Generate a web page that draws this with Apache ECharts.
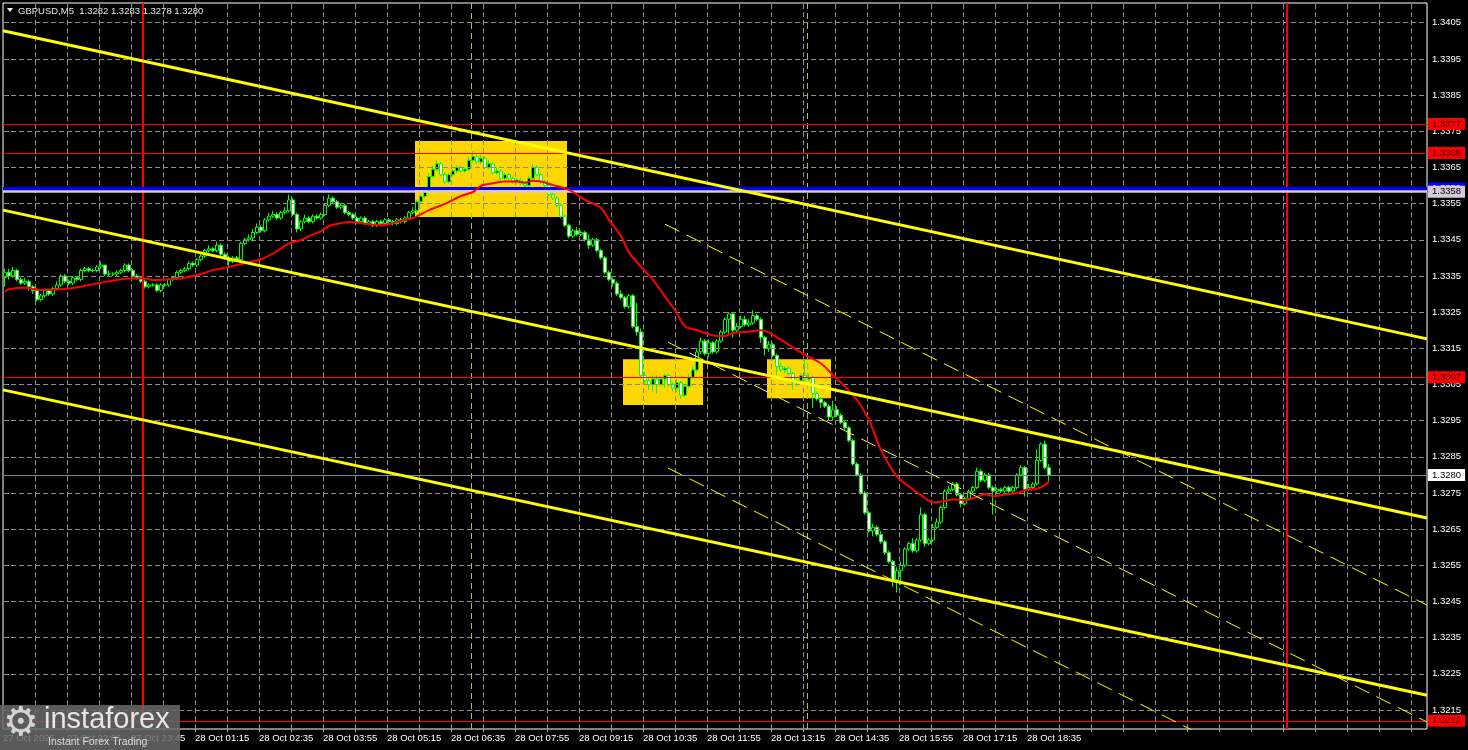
<!DOCTYPE html>
<html><head><meta charset="utf-8">
<script src="https://cdn.jsdelivr.net/npm/echarts@6/dist/echarts.min.js"></script>
<style>html,body{margin:0;padding:0;background:#000;}#c{width:1468px;height:750px;}</style>
</head><body><div id="c"></div>
<script>
const symbolTitle = 'GBPUSD,M5';
const lastQuote = ['1.3282', '1.3283', '1.3278', '1.3280'];
const slotCount = 356;
const timeTickBars = [0, 16, 32, 48, 64, 80, 96, 112, 128, 144, 160, 176, 192, 208, 224, 240, 256];
const timeTickLabels = ['27 Oct 2025', '27 Oct 22:05', '27 Oct 23:45', '28 Oct 01:15', '28 Oct 02:35', '28 Oct 03:55', '28 Oct 05:15', '28 Oct 06:35', '28 Oct 07:55', '28 Oct 09:15', '28 Oct 10:35', '28 Oct 11:55', '28 Oct 13:15', '28 Oct 14:35', '28 Oct 15:55', '28 Oct 17:15', '28 Oct 18:35'];
const priceTicks = [1.3215, 1.3225, 1.3235, 1.3245, 1.3255, 1.3265, 1.3275, 1.3285, 1.3295, 1.3305, 1.3315, 1.3325, 1.3335, 1.3345, 1.3355, 1.3365, 1.3375, 1.3385, 1.3395, 1.3405];
const priceMin = 1.320975, priceMax = 1.341045;
// [open, close, low, high]
const candles = [
[1.33345,1.3336,1.3332,1.3337],[1.3336,1.3335,1.3334,1.3337],[1.3335,1.33365,1.33345,1.33375],[1.33365,1.3334,1.33335,1.3337],
[1.3334,1.3333,1.33325,1.33345],[1.3333,1.33335,1.33325,1.33345],[1.33335,1.3332,1.3331,1.3334],[1.3332,1.3331,1.333,1.33325],
[1.3331,1.33285,1.3328,1.33315],[1.33285,1.33295,1.3328,1.333],[1.33295,1.3331,1.3329,1.33315],[1.3331,1.333,1.33295,1.33315],
[1.333,1.33315,1.33295,1.3332],[1.33315,1.33325,1.3331,1.33335],[1.33325,1.3335,1.3332,1.33355],[1.3335,1.33335,1.3333,1.33355],
[1.33335,1.3333,1.33325,1.3334],[1.3333,1.33345,1.33325,1.3335],[1.33345,1.3334,1.33335,1.3335],[1.3334,1.33365,1.33335,1.3337],
[1.33365,1.3337,1.3336,1.33375],[1.3337,1.33365,1.3336,1.33375],[1.33365,1.33365,1.3336,1.3337],[1.33365,1.33375,1.3336,1.3338],
[1.33375,1.3338,1.3337,1.3339],[1.3338,1.33355,1.3335,1.3338],[1.33355,1.33355,1.3335,1.33365],[1.33355,1.33355,1.3335,1.3336],
[1.33355,1.3336,1.3335,1.33365],[1.3336,1.33365,1.33355,1.3337],[1.33365,1.3338,1.3336,1.33385],[1.3338,1.33365,1.3336,1.33385],
[1.33365,1.3335,1.33345,1.3337],[1.3335,1.33345,1.3334,1.33355],[1.33345,1.33335,1.3333,1.3335],[1.33335,1.3332,1.33315,1.3334],
[1.3332,1.33325,1.33315,1.3333],[1.33325,1.33325,1.3332,1.3333],[1.33325,1.3331,1.33305,1.3333],[1.3331,1.33325,1.33305,1.3333],
[1.33325,1.33325,1.3332,1.3333],[1.33325,1.3334,1.3332,1.33345],[1.3334,1.33345,1.33335,1.3335],[1.33345,1.3336,1.3334,1.33365],
[1.3336,1.33365,1.33355,1.3337],[1.33365,1.3337,1.3336,1.33375],[1.3337,1.33385,1.33365,1.3339],[1.33385,1.3338,1.33375,1.3339],
[1.3338,1.33395,1.33375,1.334],[1.33395,1.33405,1.3339,1.3341],[1.33405,1.3342,1.334,1.33425],[1.3342,1.33425,1.33415,1.33435],
[1.33425,1.3342,1.33415,1.3343],[1.3342,1.33435,1.33415,1.33445],[1.33435,1.3341,1.33405,1.3344],[1.3341,1.334,1.33395,1.33415],
[1.334,1.3339,1.33375,1.33405],[1.3339,1.334,1.33385,1.33405],[1.334,1.33395,1.3339,1.33405],[1.33395,1.3344,1.3339,1.33445],
[1.3344,1.3345,1.33435,1.33455],[1.3345,1.33455,1.33445,1.33465],[1.33455,1.3347,1.33445,1.3348],[1.3347,1.33485,1.33465,1.33495],
[1.33485,1.33475,1.3347,1.3349],[1.33475,1.33505,1.3347,1.3351],[1.33505,1.33515,1.335,1.33525],[1.33515,1.3352,1.3351,1.3353],
[1.3352,1.3351,1.33505,1.33525],[1.3351,1.33525,1.33505,1.3353],[1.33525,1.3353,1.3352,1.3354],[1.3353,1.3356,1.33525,1.33575],
[1.3356,1.3352,1.33515,1.33565],[1.3352,1.3348,1.3347,1.33525],[1.3348,1.335,1.33475,1.33505],[1.335,1.3351,1.33495,1.3352],
[1.3351,1.335,1.33495,1.33515],[1.335,1.33515,1.33495,1.3352],[1.33515,1.3351,1.33505,1.3352],[1.3351,1.3352,1.33505,1.33525],
[1.3352,1.33545,1.33515,1.3355],[1.33545,1.33565,1.3354,1.33575],[1.33565,1.33555,1.3355,1.3357],[1.33555,1.3354,1.33535,1.3356],
[1.3354,1.33545,1.33535,1.3355],[1.33545,1.33525,1.3352,1.3355],[1.33525,1.3352,1.33515,1.3353],[1.3352,1.3351,1.33505,1.33525],
[1.3351,1.335,1.33495,1.33515],[1.335,1.3351,1.33495,1.33515],[1.3351,1.33495,1.3349,1.33515],[1.33495,1.335,1.3349,1.33505],
[1.335,1.3349,1.33485,1.33505],[1.3349,1.335,1.33485,1.33505],[1.335,1.33495,1.3349,1.33505],[1.33495,1.33505,1.3349,1.3351],
[1.33505,1.335,1.33495,1.3351],[1.335,1.33495,1.3349,1.33505],[1.33495,1.33505,1.3349,1.3351],[1.33505,1.335,1.33495,1.3351],
[1.335,1.3351,1.33495,1.33515],[1.3351,1.33525,1.33505,1.3353],[1.33525,1.3353,1.3352,1.3354],[1.3353,1.33555,1.33525,1.3356],
[1.33555,1.3357,1.3355,1.33575],[1.3357,1.33585,1.33565,1.3359],[1.33585,1.33625,1.3358,1.33635],[1.33625,1.33645,1.3362,1.33655],
[1.33645,1.3366,1.3364,1.3367],[1.3366,1.3363,1.33625,1.33665],[1.3363,1.3361,1.33605,1.33635],[1.3361,1.3363,1.33605,1.33635],
[1.3363,1.3364,1.33625,1.33645],[1.3364,1.3365,1.33635,1.33655],[1.3365,1.3364,1.33635,1.33655],[1.3364,1.33645,1.33635,1.3365],
[1.33645,1.3367,1.3364,1.3368],[1.3367,1.3368,1.33665,1.33695],[1.3368,1.33665,1.3366,1.33685],[1.33665,1.33675,1.3366,1.33685],
[1.33675,1.3365,1.33645,1.3368],[1.3365,1.3366,1.33645,1.3367],[1.3366,1.33635,1.3363,1.33665],[1.33635,1.3364,1.3363,1.3365],
[1.3364,1.3362,1.33615,1.33645],[1.3362,1.3363,1.33615,1.33635],[1.3363,1.3362,1.33615,1.33635],[1.3362,1.3361,1.33605,1.33625],
[1.3361,1.33615,1.33605,1.3362],[1.33615,1.33605,1.336,1.3362],[1.33605,1.336,1.33595,1.3361],[1.336,1.3362,1.33595,1.33625],
[1.3362,1.3365,1.33615,1.3366],[1.3365,1.3363,1.33625,1.33655],[1.3363,1.3361,1.33605,1.33635],[1.3361,1.336,1.33595,1.33615],
[1.336,1.33575,1.3357,1.33605],[1.33575,1.33565,1.3356,1.3358],[1.33565,1.33545,1.3354,1.3357],[1.33545,1.33515,1.3351,1.3355],
[1.33515,1.3349,1.33485,1.3352],[1.3349,1.3346,1.33455,1.33495],[1.3346,1.33475,1.33455,1.3348],[1.33475,1.33465,1.3346,1.33485],
[1.33465,1.3347,1.3346,1.33475],[1.3347,1.3345,1.33445,1.33475],[1.3345,1.33435,1.33425,1.33465],[1.33435,1.3345,1.3343,1.33455],
[1.3345,1.3342,1.33415,1.33455],[1.3342,1.334,1.33395,1.33425],[1.334,1.3336,1.33355,1.33405],[1.3336,1.3334,1.33335,1.33365],
[1.3334,1.3333,1.3332,1.33345],[1.3333,1.333,1.33295,1.33335],[1.333,1.3329,1.33285,1.3331],[1.3329,1.33265,1.3326,1.33295],
[1.33265,1.33295,1.3326,1.333],[1.33295,1.3321,1.33205,1.333],[1.3321,1.33195,1.33185,1.33275],[1.33195,1.33075,1.3307,1.33205],
[1.33075,1.3306,1.3305,1.33085],[1.3306,1.3305,1.33035,1.3307],[1.3305,1.33065,1.3303,1.33075],[1.33065,1.3305,1.33025,1.33075],
[1.3305,1.33065,1.33045,1.3307],[1.33065,1.33075,1.3304,1.3308],[1.33075,1.3305,1.33045,1.3308],[1.3305,1.3304,1.3303,1.33055],
[1.3304,1.33055,1.3303,1.33065],[1.33055,1.3302,1.3301,1.3306],[1.3302,1.33045,1.33015,1.3305],[1.33045,1.3307,1.3304,1.3308],
[1.3307,1.3309,1.33065,1.331],[1.3309,1.3314,1.33085,1.3315],[1.3314,1.3317,1.33135,1.3318],[1.3317,1.33135,1.3313,1.33175],
[1.33135,1.33165,1.33125,1.33175],[1.33165,1.3314,1.33135,1.3317],[1.3314,1.3317,1.33135,1.33175],[1.3317,1.33195,1.33165,1.332],
[1.33195,1.3323,1.3319,1.33235],[1.3323,1.33245,1.3319,1.3325],[1.33245,1.332,1.3318,1.3325],[1.332,1.3321,1.33195,1.3322],
[1.3321,1.3323,1.33205,1.3324],[1.3323,1.33215,1.3321,1.3324],[1.33215,1.3322,1.3321,1.3323],[1.3322,1.3324,1.33215,1.33255],
[1.3324,1.3323,1.33225,1.33245],[1.3323,1.3318,1.33165,1.33235],[1.3318,1.3315,1.3313,1.33185],[1.3315,1.3316,1.3314,1.3317],
[1.3316,1.3313,1.33125,1.33165],[1.3313,1.331,1.33075,1.33135],[1.331,1.3309,1.33085,1.3311],[1.3309,1.33095,1.3308,1.331],
[1.33095,1.3308,1.33075,1.331],[1.3308,1.33055,1.33035,1.33085],[1.33055,1.3306,1.33045,1.33065],[1.3306,1.33075,1.33055,1.3308],
[1.33075,1.33065,1.3306,1.3312],[1.33065,1.3307,1.3306,1.3308],[1.3307,1.33025,1.32985,1.33075],[1.33025,1.3301,1.33005,1.3303],
[1.3301,1.33,1.32985,1.33015],[1.33,1.3299,1.32985,1.33005],[1.3299,1.3296,1.3295,1.32995],[1.3296,1.3298,1.3295,1.33005],
[1.3298,1.32965,1.3296,1.3299],[1.32965,1.32945,1.3294,1.3297],[1.32945,1.3293,1.32925,1.3295],[1.3293,1.32895,1.3289,1.32935],
[1.32895,1.3283,1.32825,1.329],[1.3283,1.328,1.32795,1.32835],[1.328,1.3275,1.32745,1.32805],[1.3275,1.32695,1.3269,1.32755],
[1.32695,1.32645,1.3264,1.327],[1.32645,1.32655,1.3263,1.32665],[1.32655,1.32635,1.3263,1.3266],[1.32635,1.32615,1.3261,1.32645],
[1.32615,1.32585,1.3258,1.3262],[1.32585,1.3256,1.32555,1.3259],[1.3256,1.3251,1.3249,1.32565],[1.3251,1.32535,1.32475,1.32545],
[1.32535,1.3255,1.32495,1.3256],[1.3255,1.32595,1.32545,1.326],[1.32595,1.3261,1.3259,1.32615],[1.3261,1.3259,1.32585,1.32625],
[1.3259,1.3262,1.32585,1.32625],[1.3262,1.3269,1.32615,1.3271],[1.3269,1.3261,1.326,1.32695],[1.3261,1.3262,1.32605,1.32625],
[1.3262,1.32655,1.32615,1.32665],[1.32655,1.3267,1.3265,1.3268],[1.3267,1.3271,1.32665,1.32715],[1.3271,1.32755,1.32705,1.3276],
[1.32755,1.3276,1.3275,1.3277],[1.3276,1.32775,1.32755,1.3278],[1.32775,1.32745,1.3274,1.3278],[1.32745,1.3272,1.3271,1.3275],
[1.3272,1.32735,1.32715,1.3274],[1.32735,1.32755,1.3273,1.3276],[1.32755,1.32765,1.3275,1.3277],[1.32765,1.3281,1.3276,1.3282],
[1.3281,1.32785,1.3278,1.32815],[1.32785,1.328,1.3278,1.32805],[1.328,1.32765,1.3276,1.32805],[1.32765,1.32755,1.3269,1.3277],
[1.32755,1.3276,1.3275,1.32765],[1.3276,1.32755,1.3275,1.32765],[1.32755,1.32765,1.3275,1.3277],[1.32765,1.32755,1.3275,1.3277],
[1.32755,1.32765,1.3275,1.3277],[1.32765,1.328,1.3276,1.32805],[1.328,1.3282,1.32795,1.32827],[1.3282,1.3276,1.3274,1.32825],
[1.3276,1.32765,1.32755,1.32775],[1.32765,1.32775,1.3276,1.3278],[1.32775,1.3284,1.3277,1.3287],[1.3284,1.32885,1.32835,1.3289],
[1.32885,1.3282,1.32815,1.32895],[1.3282,1.328,1.3278,1.3283]
];
// moving average: [bar, price]
const maPoints = [[0,1.33307],[1,1.33313],[5,1.33317],[9,1.33311],[14,1.33313],[17,1.33317],[21,1.33325],[24,1.33331],[28,1.33339],[31,1.33343],[35,1.33343],[37,1.33339],[41,1.33341],[44,1.33343],[47,1.3335],[50,1.33359],[52,1.33366],[56,1.33375],[60,1.33385],[64,1.33396],[67,1.33412],[71,1.3344],[74,1.33449],[76,1.3346],[79,1.33474],[81,1.33488],[84,1.33496],[86,1.33499],[89,1.33496],[91,1.33493],[94,1.3349],[96,1.33493],[99,1.33502],[102,1.3351],[106,1.33532],[110,1.33549],[114,1.33571],[117,1.33582],[119,1.33599],[122,1.33606],[125,1.33611],[128,1.33611],[130,1.33608],[132,1.33613],[134,1.33611],[137,1.33601],[140,1.33592],[142,1.33582],[145,1.3356],[149,1.33538],[151,1.33505],[154,1.3346],[156,1.33415],[159,1.33375],[162,1.33339],[165,1.33293],[168,1.33247],[170,1.3321],[173,1.332],[175,1.33192],[178,1.33184],[180,1.33184],[182,1.33192],[186,1.33196],[189,1.332],[191,1.33193],[194,1.33173],[198,1.33145],[200,1.33131],[204,1.33108],[207,1.33076],[210,1.33044],[213,1.33007],[216,1.32952],[219,1.32869],[223,1.32795],[226,1.32768],[229,1.32744],[232,1.32724],[234,1.32726],[237,1.32732],[240,1.3273],[243,1.32739],[245,1.32747],[247,1.32741],[250,1.32746],[253,1.3275],[256,1.3276],[257,1.3276],[260,1.32772],[261,1.32783]];
const channelLines = [[[-0.5,1.34028],[355.5,1.33176]],[[-0.5,1.33532],[355.5,1.32681]],[[-0.5,1.33035],[355.5,1.32191]]];
const regressionLines = [[[165,1.33493],[355.5,1.3244]],[[165.75,1.33167],[355.5,1.32117]],[[165.75,1.32819],[355.5,1.3177]]];
// [bar from, price top, bar to, price bottom]
const zones = [[102.5,1.33723,140.5,1.33513],[154.5,1.3312,174.5,1.32993],[190.5,1.3312,206.5,1.33012]];
const redLevels = [1.3377, 1.3369, 1.3307, 1.3212];
const blueLevel = 1.33592;
const bidLevel = 1.33583;
const lastPrice = 1.3280;
const daySeparators = [34.5, 320.5];
const sessionMarks = [116.5, 200.5];

const FONT = 'Liberation Sans';
const categories = [];
for (let i = 0; i < slotCount; i++) categories.push(String(i));
const vGrid = [];
for (let v = 7.5; v < slotCount - 0.5; v += 8) vGrid.push(v);
const labelByBar = {};
timeTickBars.forEach((b, i) => { labelByBar[b] = timeTickLabels[i]; });

const chart = echarts.init(document.getElementById('c'), null, {renderer: 'canvas'});
const base = {type: 'line', xAxisIndex: 1, yAxisIndex: 0, data: [], silent: true, symbol: 'none'};
const levelLabel = (text, bg, fg) => ({show: true, position: 'end', distance: 1, formatter: text, backgroundColor: bg, color: fg, fontSize: 9.5, fontFamily: FONT, padding: [1, 4, 0, 4], lineHeight: 11});

const series = [
  Object.assign({}, base, {name: 'zones', z: 1, markArea: {silent: true, precision: 6, itemStyle: {color: '#FFD700'}, data: zones.map(z => [{coord: [z[0], z[1]]}, {coord: [z[2], z[3]]}])}}),
  Object.assign({}, base, {name: 'gridlines', z: 2, markLine: {silent: true, precision: 6, symbol: 'none', label: {show: false}, lineStyle: {color: '#8c8c8c', type: [5, 3], width: 1}, data: priceTicks.map(v => ({yAxis: v})).concat(vGrid.map(v => ({xAxis: v})))}}),
  Object.assign({}, base, {name: 'sessions', z: 3, markLine: {silent: true, precision: 6, symbol: 'none', label: {show: false}, data: sessionMarks.map(v => ({xAxis: v, lineStyle: {color: '#9acd32', width: 1, type: [6, 4]}}))}}),
  {type: 'candlestick', name: 'GBPUSD', xAxisIndex: 0, yAxisIndex: 0, z: 4, barWidth: 3, silent: true, data: candles,
    itemStyle: {color: '#000000', color0: '#ffffff', borderColor: '#00ff00', borderColor0: '#00ff00', borderWidth: 1}},
  {type: 'line', name: 'MA', xAxisIndex: 1, yAxisIndex: 0, z: 5, data: maPoints, symbol: 'none', smooth: 0.3, silent: true, lineStyle: {color: '#ff0000', width: 2}},
  Object.assign({}, base, {name: 'days', z: 6, markLine: {silent: true, precision: 6, symbol: 'none', label: {show: false}, data: daySeparators.map(v => ({xAxis: v, lineStyle: {color: '#ff0000', width: 2, type: 'solid'}}))}}),
  Object.assign({}, base, {name: 'levels', z: 6, clip: false, markLine: {silent: true, precision: 6, symbol: 'none', data:
    redLevels.map(v => ({yAxis: v, lineStyle: {color: '#ff0000', width: 1, type: 'solid'}, label: levelLabel(v.toFixed(4), '#ff0000', '#3a0000')}))
    .concat([
      {yAxis: lastPrice, lineStyle: {color: '#778899', width: 1, type: 'solid'}, label: levelLabel(lastPrice.toFixed(4), '#ffffff', '#000000')},
      {yAxis: blueLevel, lineStyle: {color: '#0000ff', width: 3, type: 'solid'}, label: levelLabel(blueLevel.toFixed(4), '#0000ff', '#ffffff')},
      {yAxis: bidLevel, lineStyle: {color: '#d8c8dc', width: 2.5, type: 'solid'}, label: levelLabel(bidLevel.toFixed(4), '#d8c8dc', '#000000')}
    ])}})
];
channelLines.forEach((ln, i) => series.push({type: 'line', name: 'channel' + i, xAxisIndex: 1, yAxisIndex: 0, z: 7, data: ln, symbol: 'none', silent: true, lineStyle: {color: '#ffff00', width: 3}}));
regressionLines.forEach((ln, i) => series.push({type: 'line', name: 'reg' + i, xAxisIndex: 1, yAxisIndex: 0, z: 7, data: ln, symbol: 'none', silent: true, lineStyle: {color: '#ffff00', width: 1, type: [16, 8]}}));

chart.setOption({
  backgroundColor: '#000000',
  animation: false,
  grid: {left: 3, top: 3, width: 1424, height: 726, show: true, borderColor: '#ffffff', borderWidth: 1, backgroundColor: 'transparent'},
  xAxis: [
    {type: 'category', data: categories, boundaryGap: true, position: 'top', axisLine: {show: false}, axisTick: {show: false}, axisLabel: {show: false}, splitLine: {show: false}},
    {type: 'value', min: -0.5, max: slotCount - 0.5, position: 'bottom', axisLine: {show: false}, splitLine: {show: false},
      axisTick: {show: true, customValues: vGrid, length: 3, lineStyle: {color: '#a0a0a0'}},
      axisLabel: {customValues: timeTickBars.map(b => b - 0.5), formatter: v => labelByBar[Math.round(v + 0.5)] || '', align: 'left', color: '#ffffff', fontSize: 9.5, fontFamily: FONT, margin: 4, showMinLabel: true, hideOverlap: false}}
  ],
  yAxis: {type: 'value', position: 'right', min: priceMin, max: priceMax, scale: true, axisLine: {show: false}, splitLine: {show: false},
    axisTick: {show: true, customValues: priceTicks, length: 4, lineStyle: {color: '#bbbbbb'}},
    axisLabel: {customValues: priceTicks, formatter: v => v.toFixed(4), color: '#ffffff', fontSize: 9.5, fontFamily: FONT, margin: 5}},
  series: series,
  graphic: {elements: [
    {type: 'polygon', z: 100, shape: {points: [[7, 8], [13, 8], [10, 12]]}, style: {fill: '#ffffff'}},
    {type: 'text', z: 100, x: 18, y: 11, style: {text: symbolTitle + '  ' + lastQuote.join(' '), fill: '#e8e8e8', font: '9.5px "Liberation Sans"', textVerticalAlign: 'middle'}},
    {type: 'rect', z: 100, shape: {x: 0, y: 705, width: 180, height: 45}, style: {fill: 'rgba(105,105,105,0.86)'}},
    {type: 'text', z: 101, x: 3, y: 725, style: {text: '\u2699', fill: '#d4d4d4', font: '40px "DejaVu Sans"', textVerticalAlign: 'middle'}},
    {type: 'text', z: 101, x: 44, y: 720, style: {text: 'instaforex', fill: '#e6e6e6', font: '29px "Liberation Sans"', textVerticalAlign: 'middle'}},
    {type: 'text', z: 101, x: 48, y: 742, style: {text: 'Instant Forex Trading', fill: '#dcdcdc', font: '10.5px "Liberation Sans"', textVerticalAlign: 'middle'}}
  ]}
});
</script>
</body></html>
